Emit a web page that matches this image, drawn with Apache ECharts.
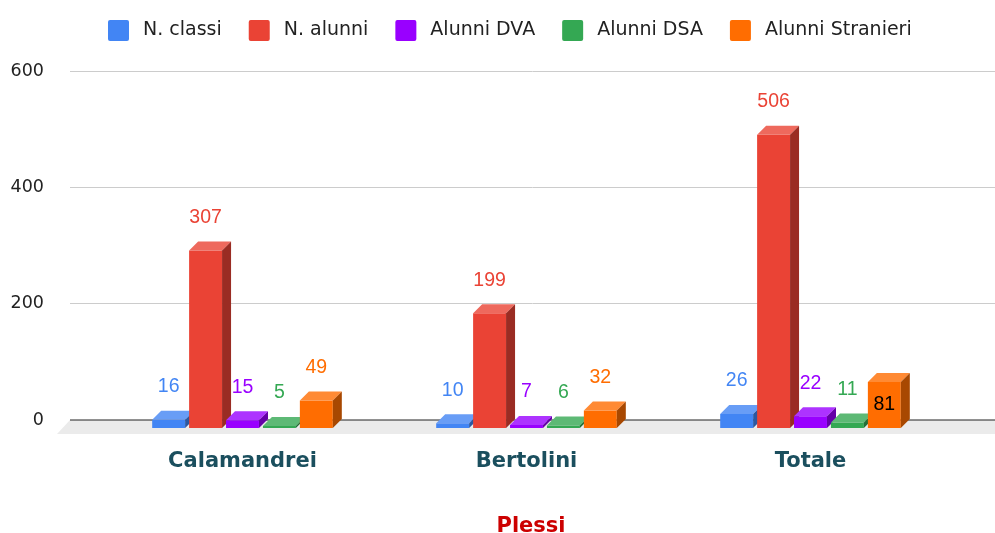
<!DOCTYPE html>
<html>
<head>
<meta charset="utf-8">
<script src="https://cdn.jsdelivr.net/npm/echarts@6/dist/echarts.min.js"></script>
<style>
  html, body { margin: 0; padding: 0; background: #fff; }
  #chart { width: 995px; height: 533px; }
</style>
</head>
<body>
<div id="chart"></div>
<script>
'use strict';

// dati
const plessi = ['Calamandrei', 'Bertolini', 'Totale'];
const serieNomi = ['N. classi', 'N. alunni', 'Alunni DVA', 'Alunni DSA', 'Alunni Stranieri'];
const nClassi = [16, 10, 26];
const nAlunni = [307, 199, 506];
const alunniDVA = [15, 7, 22];
const alunniDSA = [5, 6, 11];
const alunniStranieri = [49, 32, 81];
const yTicks = [0, 200, 400, 600];

const colori = ['#4285F4', '#EA4335', '#9900FF', '#34A853', '#FF6D01'];
const valori = [nClassi, nAlunni, alunniDVA, alunniDSA, alunniStranieri];
// etichetta dentro la barra (solo Totale / Stranieri nel grafico originale)
const etichettaDentro = [[false, false, false], [false, false, false], [false, false, false], [false, false, false], [false, false, true]];

const FONT = '"DejaVu Sans", sans-serif';
const FONT_VAL = '"Liberation Sans", Arial, sans-serif';
const DEPTH = 9;

// mescola un colore hex verso bianco (t>0) o scurisce (t<0)
function tono(hex, t) {
    const n = parseInt(hex.slice(1), 16);
    const c = [(n >> 16) & 255, (n >> 8) & 255, n & 255].map(x => {
        const y = t >= 0 ? x + (255 - x) * t : x * (1 + t);
        return Math.round(y);
    });
    return 'rgb(' + c.join(',') + ')';
}

function barra3d(idx) {
    const colore = colori[idx];
    const topColor = tono(colore, 0.2);
    const sideColor = tono(colore, -0.34);
    return function (params, api) {
        const cat = api.value(0);
        const v = api.value(1);
        const base = api.coord([cat, 0]);
        const top = api.coord([cat, v]);
        const band = api.size([1, 0])[0];
        const w = band * 0.116;
        const step = band * 0.13;
        const cx = base[0] + (idx - 2) * step - DEPTH / 2;
        const x0 = cx - w / 2, x1 = cx + w / 2;
        const yT = top[1] + DEPTH, yB = base[1] + DEPTH - 1;
        const dentro = etichettaDentro[idx][params.dataIndex];
        return {
            type: 'group',
            children: [
                { type: 'rect', shape: { x: x0, y: yT, width: w, height: yB - yT }, style: { fill: colore } },
                { type: 'polygon', shape: { points: [[x0, yT], [x0 + DEPTH, yT - DEPTH], [x1 + DEPTH, yT - DEPTH], [x1, yT]] }, style: { fill: topColor } },
                { type: 'polygon', shape: { points: [[x1, yT], [x1 + DEPTH, yT - DEPTH], [x1 + DEPTH, yB - DEPTH], [x1, yB]] }, style: { fill: sideColor } },
                {
                    type: 'text',
                    style: {
                        text: String(v),
                        x: cx,
                        y: dentro ? (yT + yB) / 2 : top[1] - 24,
                        align: 'center',
                        verticalAlign: 'middle',
                        fill: dentro ? '#000' : colore,
                        font: '19.5px ' + FONT_VAL
                    }
                }
            ]
        };
    };
}

const serieBarre = serieNomi.map((nome, idx) => ({
    name: nome,
    type: 'custom',
    xAxisIndex: 1,
    yAxisIndex: 1,
    color: colori[idx],
    z: 3 + idx,
    renderItem: barra3d(idx),
    data: valori[idx].map((v, i) => [i, v])
}));

// pavimento grigio + linea dello zero
const pavimento = {
    type: 'custom',
    xAxisIndex: 0,
    yAxisIndex: 0,
    silent: true,
    z: 1,
    renderItem: function (params, api) {
        const p0 = api.coord([0, 0]);
        const p1 = api.coord([1, 0]);
        return {
            type: 'group',
            children: [
                { type: 'polygon', shape: { points: [[p0[0], p0[1]], [p1[0], p1[1]], [p1[0], p1[1] + 14], [p0[0] - 13, p0[1] + 14]] }, style: { fill: '#ebebeb' } },
                { type: 'line', shape: { x1: p0[0], y1: p0[1], x2: p1[0], y2: p1[1] }, style: { stroke: '#222', lineWidth: 1 } }
            ]
        };
    },
    data: [[0, 0]]
};

const chart = echarts.init(document.getElementById('chart'));
chart.setOption({
    animation: false,
    textStyle: { fontFamily: FONT },
    legend: {
        top: 15,
        left: 103,
        icon: 'path://M2,0 L19,0 Q21,0 21,2 L21,19 Q21,21 19,21 L2,21 Q0,21 0,19 L0,2 Q0,0 2,0 Z',
        itemWidth: 21,
        itemHeight: 21,
        itemGap: 27,
        data: serieNomi,
        textStyle: { fontSize: 19, color: '#222', padding: [0, 0, 0, 9], fontFamily: FONT }
    },
    grid: [
        { left: 70, right: 0, top: 71, bottom: 113, outerBoundsMode: 'none' },
        { left: 105, right: 38, top: 71, bottom: 113, outerBoundsMode: 'none' }
    ],
    xAxis: [
        { type: 'value', gridIndex: 0, min: 0, max: 1, show: false },
        {
            type: 'category',
            gridIndex: 1,
            data: plessi,
            axisLine: { show: false },
            axisTick: { show: false },
            axisLabel: { fontSize: 21, fontWeight: 'bold', color: '#1b4f5e', margin: 31, padding: [0, 9, 0, 0], fontFamily: FONT },
            name: 'Plessi',
            nameLocation: 'middle',
            nameGap: 96,
            nameTextStyle: { fontSize: 21, fontWeight: 'bold', color: '#cc0000', fontFamily: FONT }
        }
    ],
    yAxis: [
        {
            type: 'value',
            gridIndex: 0,
            min: yTicks[0],
            max: yTicks[yTicks.length - 1],
            interval: 200,
            axisLine: { show: false },
            axisTick: { show: false },
            axisLabel: { fontSize: 17.5, color: '#222', margin: 26, fontFamily: FONT },
            splitLine: { lineStyle: { color: '#cccccc' } }
        },
        { type: 'value', gridIndex: 1, min: 0, max: 600, show: false, splitLine: { show: false } }
    ],
    series: [pavimento].concat(serieBarre)
});
</script>
</body>
</html>
